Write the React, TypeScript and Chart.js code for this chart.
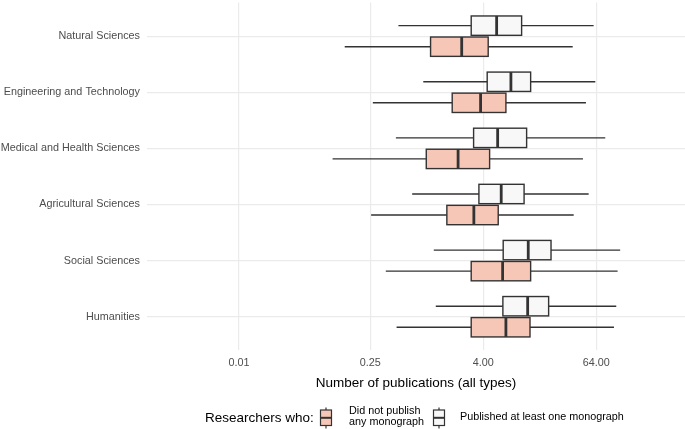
import { useEffect, useRef } from 'react'
import { Chart, registerables } from 'chart.js'

Chart.register(...registerables)

const FIELDS = [
  'Natural Sciences',
  'Engineering and Technology',
  'Medical and Health Sciences',
  'Agricultural Sciences',
  'Social Sciences',
  'Humanities',
]

// researchers who did not publish any monograph
const NONE_LOW = [0.134, 0.267, 0.0995, 0.256, 0.367, 0.478]
const NONE_Q1 = [1.1, 1.87, 0.99, 1.64, 2.98, 2.98]
const NONE_MED = [2.36, 3.75, 2.16, 3.18, 6.44, 6.98]
const NONE_Q3 = [4.52, 6.98, 4.68, 5.78, 12.8, 12.6]
const NONE_HIGH = [35.9, 49.7, 46.2, 36.8, 108, 98.8]

// researchers who published at least one monograph
const MONO_LOW = [0.5, 0.92, 0.47, 0.7, 1.19, 1.25]
const MONO_Q1 = [2.98, 4.41, 3.16, 3.6, 6.53, 6.48]
const MONO_MED = [5.56, 7.89, 5.7, 6.22, 12.07, 11.9]
const MONO_Q3 = [10.26, 12.8, 11.6, 10.9, 21.1, 19.9]
const MONO_HIGH = [60, 62.5, 79.8, 53.1, 115, 104.5]

const X_TICKS = [0.01, 0.25, 4, 64]

const PINK = '#F6C7B7'
const WHITE = '#F8F8F8'
const LINE = '#333333'
const GRID = '#EBEBEB'
const FONT = "'Liberation Sans', Arial, Helvetica, sans-serif"

const boxplotPlugin = {
  id: 'boxplotParts',
  afterDatasetsDraw(chart: any) {
    const { ctx } = chart
    const xScale = chart.scales.x
    chart.data.datasets.forEach((ds: any, di: number) => {
      const meta = chart.getDatasetMeta(di)
      meta.data.forEach((bar: any, i: number) => {
        const { x, y, base, height } = bar.getProps(['x', 'y', 'base', 'height'], true)
        const left = Math.min(x, base)
        const right = Math.max(x, base)
        const top = y - height / 2
        ctx.save()
        ctx.strokeStyle = LINE
        ctx.lineWidth = 1.4
        ctx.beginPath()
        ctx.moveTo(xScale.getPixelForValue(ds.low[i]), y)
        ctx.lineTo(left, y)
        ctx.moveTo(right, y)
        ctx.lineTo(xScale.getPixelForValue(ds.high[i]), y)
        ctx.stroke()
        ctx.strokeRect(left, top, right - left, height)
        const m = xScale.getPixelForValue(ds.med[i])
        ctx.lineWidth = 2.8
        ctx.beginPath()
        ctx.moveTo(m, top)
        ctx.lineTo(m, top + height)
        ctx.stroke()
        ctx.restore()
      })
    })
  },
}

function KeyGlyph({ fill }: { fill: string }) {
  return (
    <svg width="14" height="24" viewBox="0 0 14 24">
      <line x1="7" y1="1.5" x2="7" y2="22.5" stroke={LINE} strokeWidth="1.2" />
      <rect x="1.5" y="4" width="11" height="15.5" fill={fill} stroke={LINE} strokeWidth="1.2" />
      <line x1="1.5" y1="11.8" x2="12.5" y2="11.8" stroke={LINE} strokeWidth="2" />
    </svg>
  )
}

export default function App() {
  const chartRef = useRef<HTMLCanvasElement>(null)
  const chartInstanceRef = useRef<Chart | null>(null)

  useEffect(() => {
    document.body.style.margin = '0'
    if (!chartRef.current) return
    if (chartInstanceRef.current) chartInstanceRef.current.destroy()

    const ctx = chartRef.current.getContext('2d')
    if (!ctx) return

    chartInstanceRef.current = new Chart(ctx, {
      type: 'bar',
      data: {
        datasets: [
          {
            label: 'Published at least one monograph',
            data: FIELDS.map((_, i) => ({ y: i, x: [MONO_Q1[i], MONO_Q3[i]] })),
            backgroundColor: WHITE,
            borderWidth: 0,
            low: MONO_LOW,
            med: MONO_MED,
            high: MONO_HIGH,
          } as any,
          {
            label: 'Did not publish any monograph',
            data: FIELDS.map((_, i) => ({ y: i, x: [NONE_Q1[i], NONE_Q3[i]] })),
            backgroundColor: PINK,
            borderWidth: 0,
            low: NONE_LOW,
            med: NONE_MED,
            high: NONE_HIGH,
          } as any,
        ],
      },
      options: {
        indexAxis: 'y',
        responsive: true,
        maintainAspectRatio: false,
        animation: false,
        categoryPercentage: 0.75,
        barPercentage: 0.92,
        layout: { padding: { top: 2.5, bottom: 30, left: 0, right: 0 } },
        plugins: {
          legend: { display: false },
          tooltip: { enabled: false },
        },
        scales: {
          x: {
            type: 'logarithmic',
            min: 0.00105,
            max: 564,
            afterBuildTicks: (scale: any) => {
              scale.ticks = X_TICKS.map((v) => ({ value: v }))
            },
            afterFit: (scale: any) => {
              scale.height = 48.6
              scale.paddingLeft = 0
              scale.paddingRight = 0
            },
            grid: { color: GRID, lineWidth: 1.2, drawTicks: false },
            border: { display: false },
            ticks: {
              autoSkip: false,
              padding: 6,
              color: '#4D4D4D',
              font: { family: FONT, size: 10.8 },
              callback: (value: any) => Number(value).toFixed(2),
            },
            title: {
              display: true,
              text: 'Number of publications (all types)',
              color: '#000000',
              font: { family: FONT, size: 13.5 },
              padding: { top: 0, bottom: 7.9 },
            },
          },
          y: {
            type: 'linear',
            reverse: true,
            min: -0.6,
            max: 5.6,
            offset: false,
            afterBuildTicks: (scale: any) => {
              scale.ticks = FIELDS.map((_, i) => ({ value: i }))
            },
            afterFit: (scale: any) => {
              scale.width = 147
              scale.paddingTop = 0
              scale.paddingBottom = 0
            },
            grid: { color: GRID, lineWidth: 1.2, drawTicks: false, offset: false },
            border: { display: false },
            ticks: {
              autoSkip: false,
              padding: 7,
              color: '#4D4D4D',
              font: { family: FONT, size: 10.8 },
              callback: (value: any) => FIELDS[Number(value)] ?? '',
            },
          },
        },
      },
      plugins: [boxplotPlugin],
    } as any)

    return () => {
      if (chartInstanceRef.current) {
        chartInstanceRef.current.destroy()
        chartInstanceRef.current = null
      }
    }
  }, [])

  return (
    <div style={{ position: 'relative', width: 685, height: 429, background: '#FFFFFF', fontFamily: FONT }}>
      <canvas ref={chartRef} />
      {/* Legend */}
      <div style={{ position: 'absolute', left: 205, top: 410, fontSize: 13.5, lineHeight: '16px', color: '#000' }}>
        Researchers who:
      </div>
      <div style={{ position: 'absolute', left: 319, top: 406 }}>
        <KeyGlyph fill={PINK} />
      </div>
      <div style={{ position: 'absolute', left: 349, top: 405, fontSize: 10.8, lineHeight: '11px', color: '#000' }}>
        Did not publish
        <br />
        any monograph
      </div>
      <div style={{ position: 'absolute', left: 432, top: 406 }}>
        <KeyGlyph fill={WHITE} />
      </div>
      <div style={{ position: 'absolute', left: 460, top: 410, fontSize: 10.8, lineHeight: '13px', color: '#000' }}>
        Published at least one monograph
      </div>
    </div>
  )
}
